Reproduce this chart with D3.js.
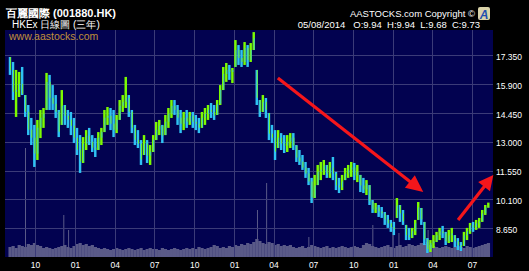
<!DOCTYPE html>
<html><head><meta charset="utf-8">
<script src="https://cdn.jsdelivr.net/npm/d3@7"></script>
<style>html,body{margin:0;padding:0;background:#000;} svg{display:block;}</style>
</head><body>
<svg id="c" width="529" height="271"></svg>
<script>
// ---- data (weekly) ----
const firstWeek = "2011-08-01";
const weeklyHigh = [
 17.25,17.00,16.60,16.50,16.75,15.34,14.84,14.19,13.84,14.09,
 14.59,14.69,16.45,16.35,15.84,15.34,14.59,15.59,14.84,14.59,
 14.49,14.19,13.69,13.33,13.23,13.58,13.69,13.33,13.18,13.48,
 13.69,14.59,14.74,14.69,14.59,14.34,15.09,15.34,16.25,15.34,
 14.59,13.84,13.58,13.08,13.33,13.08,12.83,13.33,13.99,14.09,
 13.84,14.34,14.69,15.09,15.09,14.84,14.59,14.49,14.59,14.49,
 14.49,14.34,14.19,14.49,14.69,14.84,14.94,14.84,15.09,15.84,
 16.75,16.95,16.85,16.70,18.10,17.85,17.60,18.00,17.85,17.95,
 18.50,16.60,15.09,15.34,15.19,14.44,13.84,13.58,13.58,13.43,
 13.33,13.33,13.43,13.43,12.83,12.58,12.33,11.98,11.68,11.18,
 11.33,11.83,11.98,12.08,11.83,11.98,12.23,11.48,11.18,11.33,
 11.68,11.83,11.98,11.93,11.83,11.33,11.18,11.07,10.82,10.07,
 9.92,9.82,9.72,9.47,9.32,9.07,8.97,10.17,9.82,9.57,
 8.82,8.67,8.67,9.07,9.97,9.67,8.97,8.16,8.06,8.31,
 8.47,8.67,8.77,8.47,8.57,8.67,8.31,8.16,7.96,8.47,
 8.67,8.92,8.97,9.07,9.17,9.57,9.82,9.94];
const weeklyLow = [
 16.35,15.09,14.24,15.24,15.34,14.24,13.33,12.83,11.73,12.08,
 13.18,13.69,14.59,14.59,14.59,14.19,13.23,13.84,13.84,13.69,
 13.33,12.93,12.33,11.43,11.93,12.58,12.83,12.48,12.23,12.58,
 12.83,13.48,13.84,13.58,13.23,13.43,14.09,14.49,14.69,14.24,
 13.43,12.83,12.68,11.83,12.33,11.93,11.83,12.48,13.08,13.33,
 12.93,13.33,13.69,14.19,14.34,13.84,13.43,13.58,13.69,13.84,
 13.69,13.58,13.43,13.69,13.84,14.09,14.19,14.09,14.34,14.84,
 15.59,16.00,16.10,15.94,16.75,16.85,16.75,16.85,16.75,17.00,
 17.60,14.84,14.24,14.49,14.19,13.08,12.93,12.08,12.68,12.58,
 12.43,12.48,12.68,12.58,11.98,11.83,11.58,11.18,10.82,9.92,
 10.17,10.82,11.07,11.33,11.18,11.18,11.07,10.57,10.42,10.57,
 11.07,11.18,11.23,11.07,10.97,10.47,10.42,10.32,9.82,9.42,
 9.42,9.22,9.17,8.82,8.67,8.47,8.31,9.17,8.97,8.82,
 8.06,8.06,8.16,8.31,9.07,8.82,7.81,7.41,7.46,7.66,
 7.96,8.06,8.16,7.81,7.91,7.96,7.71,7.56,7.51,7.76,
 8.06,8.37,8.47,8.57,8.67,8.97,9.32,9.68];
const weeklyClose = [
 16.6,15.5,15.6,15.9,15.4,14.5,13.6,13.2,12.4,13.7,
 14.2,14.4,16.0,15.2,14.9,14.5,13.5,14.8,14.3,14.1,
 13.8,13.2,12.6,12.0,12.9,13.3,13.0,12.7,12.6,13.2,
 13.5,14.2,14.3,13.9,13.6,14.1,14.8,15.0,15.2,14.5,
 13.7,13.1,12.9,12.1,12.9,12.3,12.5,13.1,13.6,13.8,
 13.3,14.0,14.4,14.8,14.6,14.2,13.9,14.2,14.0,14.3,
 14.0,13.9,13.7,14.2,14.4,14.6,14.5,14.3,14.9,15.6,
 16.4,16.6,16.5,16.6,17.6,17.2,17.0,17.7,17.1,17.6,
 18.2,15.2,14.5,15.0,14.6,13.4,13.2,12.5,13.2,12.9,
 12.8,13.0,13.2,12.8,12.2,12.0,11.7,11.4,11.0,10.2,
 10.8,11.5,11.6,11.8,11.4,11.7,11.4,10.8,10.7,11.0,
 11.4,11.6,11.7,11.3,11.5,10.8,10.6,10.9,10.0,9.6,
 9.7,9.5,9.4,9.1,8.9,8.7,8.6,9.8,9.4,9.0,
 8.3,8.2,8.5,8.9,9.7,9.1,8.1,7.6,7.9,8.0,
 8.3,8.5,8.4,8.0,8.3,8.4,8.0,7.8,7.7,8.3,
 8.5,8.8,8.7,8.9,9.0,9.4,9.7,9.73];
const weeklyVolume = [
 10,11,9,12,11,10,13,12,14,12,11,
 9,10,9,8,9,10,11,12,10,
 9,11,13,14,12,13,11,12,10,9,
 8,9,8,7,8,9,8,7,8,9,8,7,8,9,7,8,9,8,
 8,7,9,8,7,8,9,8,7,8,9,8,
 9,8,10,9,8,9,10,12,11,9,10,9,11,10,
 12,11,13,12,14,13,15,
 18,16,14,13,15,14,12,13,11,12,11,12,10,
 9,10,11,9,10,12,11,10,9,10,11,9,10,9,10,11,10,
 9,10,11,10,9,12,14,13,11,10,9,
 10,11,12,10,9,11,12,10,11,13,12,11,12,14,
 13,15,12,11,10,9,10,11,10,9,10,11,
 10,9,11,10,9,10,11,12,13,14];
const spikeDates = ["2011-09-08","2011-12-05","2011-12-16","2013-02-22","2013-03-15","2013-06-20","2013-11-14","2013-12-30","2014-01-13","2014-03-21"];
const spikeVolumes = [109,42,27,47,74,20,32,30,24,27];
const priceTicks = [17.35,15.9,14.45,13.0,11.55,10.1,8.65];
const monthTicks = ["2011-10-01","2012-01-01","2012-04-01","2012-07-01","2012-10-01","2013-01-01","2013-04-01","2013-07-01","2013-10-01","2014-01-01","2014-04-01","2014-07-01"];
const arrowStart = [["2013-04-11",16.20],["2014-05-30",9.07]];
const arrowEnd = [["2014-03-11",10.47],["2014-08-19",11.33]];

// ---- drawing ----
const W=529,H=271;
const P={l:5,r:493,t:30,b:257};
const parse=d3.utcParse("%Y-%m-%d");
const svg=d3.select("#c");
svg.append("rect").attr("width",W).attr("height",H).attr("fill","#000");

const x=d3.scaleUtc().domain([parse("2011-10-01"),parse("2014-07-01")]).range([35,472]);
const y=d3.scaleLinear().domain([8.65,17.35]).range([228.3,55]);
const yv=d3.scaleLinear().domain([0,110]).range([257,147]);

svg.append("defs").append("clipPath").attr("id","clip")
  .append("rect").attr("x",P.l).attr("y",P.t).attr("width",P.r-P.l).attr("height",P.b-P.t);

svg.append("rect").attr("x",P.l).attr("y",P.t).attr("width",P.r-P.l).attr("height",P.b-P.t).attr("fill","#020250");

const g=svg.append("g").attr("clip-path","url(#clip)");
const w0=parse(firstWeek);
const weeks=weeklyHigh.map((h,i)=>({
  d:d3.utcDay.offset(w0,7*i),
  hi:h, lo:weeklyLow[i], c:weeklyClose[i],
  prev:i>0?weeklyClose[i-1]:weeklyHigh[0], v:weeklyVolume[i]}));
const wk=x(d3.utcDay.offset(w0,7))-x(w0);

// volume
g.append("g").selectAll("rect").data(weeks).join("rect")
  .attr("x",d=>x(d.d)).attr("width",wk+0.2)
  .attr("y",d=>yv(d.v)).attr("height",d=>yv(0)-yv(d.v))
  .attr("fill","#5a5a88");
g.append("g").selectAll("rect").data(spikeDates.map((s,i)=>({d:parse(s),v:spikeVolumes[i]}))).join("rect")
  .attr("x",d=>x(d.d)).attr("width",1)
  .attr("y",d=>yv(d.v)).attr("height",d=>yv(0)-yv(d.v))
  .attr("fill","#5a5a88");

// grid
g.append("g").selectAll("line").data(priceTicks).join("line")
  .attr("x1",P.l).attr("x2",P.r).attr("y1",d=>Math.round(y(d))+0.5).attr("y2",d=>Math.round(y(d))+0.5)
  .attr("stroke","#3b3b78").attr("stroke-width",1);
g.append("g").selectAll("line").data(monthTicks).join("line")
  .attr("y1",P.t).attr("y2",P.b).attr("x1",d=>Math.round(x(parse(d)))+0.5).attr("x2",d=>Math.round(x(parse(d)))+0.5)
  .attr("stroke","#3b3b78").attr("stroke-width",1);

// price bars
const up="#7cfc00", dn="#2fc3f4";
const bars=g.append("g");
bars.selectAll("rect.r").data(weeks).join("rect").attr("class","r")
  .attr("x",d=>x(d.d)+0.3).attr("width",wk-0.6)
  .attr("y",d=>y(d.hi)).attr("height",d=>y(d.lo)-y(d.hi))
  .attr("fill",d=>d.c>=d.prev?up:dn);
bars.selectAll("rect.s").data(weeks).join("rect").attr("class","s")
  .attr("x",d=>x(d.d)+wk*0.5).attr("width",1)
  .attr("y",d=>y(Math.max(d.c,d.prev>d.hi?d.hi:Math.min(d.prev,d.hi)))).attr("height",d=>Math.abs(y(d.c)-y(Math.min(Math.max(d.prev,d.lo),d.hi))))
  .attr("fill",d=>d.c>=d.prev?dn:up).attr("opacity",0.8);

// arrows
const arrows=arrowStart.map((s,i)=>({x1:x(parse(s[0])),y1:y(s[1]),x2:x(parse(arrowEnd[i][0])),y2:y(arrowEnd[i][1])}));
arrows.forEach((a,i)=>{
  const dx=a.x2-a.x1, dy=a.y2-a.y1, L=Math.hypot(dx,dy), ux=dx/L, uy=dy/L;
  const hl=i===0?17:15, hw=i===0?8:7.5;
  const bx=a.x2-ux*hl, by=a.y2-uy*hl;
  svg.append("line").attr("x1",a.x1).attr("y1",a.y1).attr("x2",bx+ux*2).attr("y2",by+uy*2)
    .attr("stroke","#f5161b").attr("stroke-width",3.2);
  svg.append("path").attr("d",`M${a.x2},${a.y2}L${bx-uy*hw},${by+ux*hw}L${bx+uy*hw},${by-ux*hw}Z`).attr("fill","#f5161b");
});

// axes
const font="'Liberation Sans',Arial,sans-serif";
const ya=svg.append("g").attr("transform",`translate(${P.r},1.5)`)
  .call(d3.axisRight(y).tickValues(priceTicks).tickFormat(d3.format(".3f")).tickSize(0).tickPadding(3));
const xa=svg.append("g").attr("transform",`translate(0,${P.b})`)
  .call(d3.axisBottom(x).tickValues(monthTicks.map(parse)).tickFormat(d3.utcFormat("%m")).tickSize(0).tickPadding(5));
[ya,xa].forEach(a=>{a.select(".domain").remove();
  a.selectAll("text").attr("fill","#fff").style("font-family",font).style("font-size","8.5px");});

// texts
svg.append("text").attr("x",6).attr("y",17).text("百麗國際 (001880.HK)")
  .attr("fill","#fff").style("font-family",font).style("font-size","11px").style("font-weight","bold");
svg.append("text").attr("x",12).attr("y",27.5).text("HKEx 日線圖 (三年)")
  .attr("fill","#fff").style("font-family",font).style("font-size","10px");
svg.append("text").attr("x",9).attr("y",40).text("www.aastocks.com")
  .attr("fill","#c0903a").style("font-family",font).style("font-size","10.5px");
svg.append("text").attr("x",475).attr("y",17).attr("text-anchor","end").text("AASTOCKS.com Copyright ©")
  .attr("fill","#fff").style("font-family",font).style("font-size","9.5px");
svg.append("text").attr("x",480).attr("y",28).attr("text-anchor","end").text("05/08/2014   O:9.94  H:9.94  L:9.68  C:9.73")
  .attr("fill","#fff").style("font-family",font).style("font-size","9.5px").style("white-space","pre").attr("xml:space","preserve");
// logo
svg.append("rect").attr("x",478).attr("y",7).attr("width",12).attr("height",13).attr("rx",2).attr("fill","#d9d2a8");
svg.append("text").attr("x",484).attr("y",18.5).attr("text-anchor","middle").text("A")
  .attr("fill","#1e4fb0").style("font-family",font).style("font-size","12px").style("font-weight","bold").style("font-style","italic");
</script>
</body></html>
